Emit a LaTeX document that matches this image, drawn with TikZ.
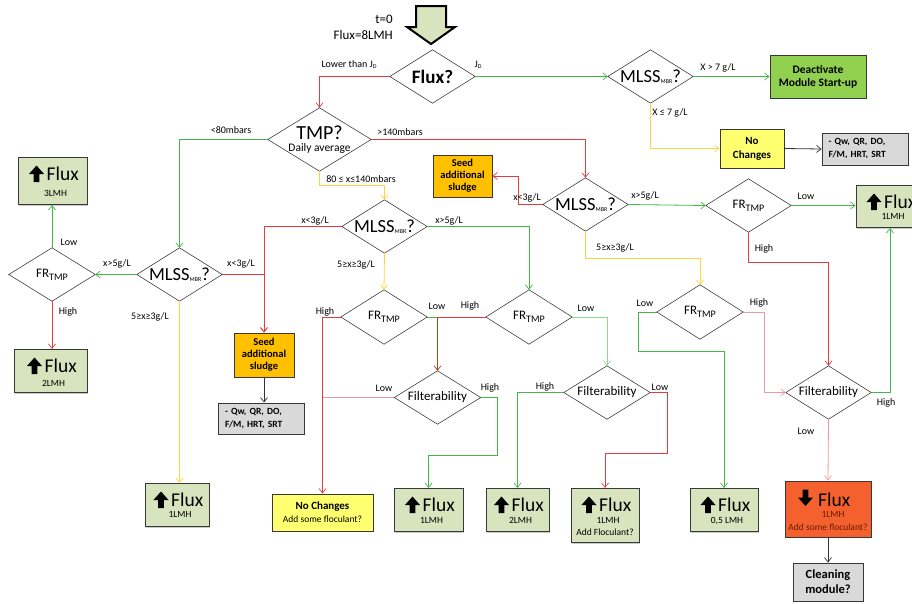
\documentclass[tikz,border=0pt]{standalone}
\usepackage{fontspec}
\setmainfont{Carlito}
\usetikzlibrary{arrows.meta,calc,shadows}
\definecolor{cgreen}{HTML}{44B649}
\definecolor{cgreenl}{HTML}{8FD68F}
\definecolor{cred}{HTML}{E03E3E}
\definecolor{credl}{HTML}{EE9A9A}
\definecolor{cyel}{HTML}{FFD440}
\definecolor{cbrown}{HTML}{A8441C}
\definecolor{fgreen}{HTML}{D7E4BD}
\definecolor{forange}{HTML}{FFC000}
\definecolor{fyel}{HTML}{FFFF70}
\definecolor{fgray}{HTML}{D9D9D9}
\definecolor{fdeact}{HTML}{92D050}
\definecolor{fdown}{HTML}{F4612F}
\definecolor{dtext}{HTML}{6B1A00}
\newcommand{\fsz}[1]{\fontsize{#1}{#1}\selectfont}
\newcommand{\mlss}{MLSS\raisebox{-1.5pt}{\fsz{6}MBR}?}
\newcommand{\frtmp}{{\fsz{13}FR}\raisebox{-3pt}{\fsz{10}TMP}}
\tikzset{
  lbl/.style={font=\fsz{10}, inner sep=0pt},
  dia/.style={rectangle, inner sep=0pt, minimum width=85pt, minimum height=53pt},
  diaout/.style={draw=black!75, line width=0.6pt},
  bx/.style={draw=black!78, line width=0.9pt, inner sep=0pt, align=center,
    drop shadow={shadow xshift=1.2pt, shadow yshift=-1.2pt, fill=black!35, opacity=0.6}},
  fluxt/.style={font=\fsz{19.5}, inner sep=0pt},
  subt/.style={font=\fsz{9.5}, inner sep=0pt},
  con/.style={line width=0.8pt},
  arr/.style={con, -{Straight Barb[length=4.5pt,width=7pt,line width=0.7pt]}},
  uparr/.pic={\fill[black] (-7.5,0)--(0,-8.5)--(7.5,0)--(2.8,0)--(2.8,8)--(-2.8,8)--(-2.8,0)--cycle;},
  downarr/.pic={\fill[black] (-7.5,0)--(0,8.5)--(7.5,0)--(2.8,0)--(2.8,-8)--(-2.8,-8)--(-2.8,0)--cycle;}
}
\newcommand{\fluxnode}[8]{%
  \node[bx, fill=#6, minimum width=#4pt, minimum height=#5pt, anchor=north] (#1) at (#2,#3) {};
  \pic at ($(#1.north)+(-16,17)$) {uparr};
  \node[fluxt, anchor=base west] at ($(#1.north)+(-6,23.5)$) {Flux};
  \node[subt, anchor=base] at ($(#1.north)+(3,#8)$) {#7};
}
\begin{document}
\begin{tikzpicture}[x=1pt,y=-1pt]
\useasboundingbox (0,0) rectangle (912,603);

% start arrow
\filldraw[fill=fgreen, draw=black, line width=2pt, line join=miter]
  (416,6)--(446,6)--(446,27)--(455,27)--(431,44)--(407,27)--(416,27)--cycle;
\node[lbl, font=\fsz{13}, anchor=east] (t0) at (393,19) {t=0};
\node[lbl, font=\fsz{13}, anchor=east] (f8) at (393,35) {Flux=8LMH};

% diamonds
\node[dia, font=\bfseries\fsz{19}] (flux) at (432.5,76.5) {\raisebox{-2pt}{Flux?}};
\node[dia, font=\fsz{18.5}] (m1) at (650.5,76.5) {\mlss};
\node[dia, minimum width=103pt, minimum height=63pt, align=center, font=\fontsize{11.5}{11.5}\selectfont] (tmp) at (319.5,139.5) {{\fsz{20}TMP?}\\Daily average};
\node[dia, font=\fsz{18.5}] (m2) at (384.5,226.5) {\mlss};
\node[dia, font=\fsz{18.5}] (mL) at (179.5,274.5) {\mlss};
\node[dia, font=\fsz{18.5}] (m3) at (585.5,204.5) {\mlss};
\node[dia, minimum width=86pt] (frL) at (52,274.5) {\frtmp};
\node[dia] (fr3) at (748.5,205.5) {\frtmp};
\node[dia, minimum width=86pt, minimum height=54pt] (fr4) at (700,312) {\frtmp};
\node[dia, minimum width=86pt, minimum height=54pt] (fr1) at (384,317) {\frtmp};
\node[dia, minimum width=86pt, minimum height=54pt] (fr2) at (529,317) {\frtmp};
\node[dia, minimum width=86pt, font=\fsz{13}] (filt1) at (437.5,397.5) {Filterability};
\node[dia, minimum width=86pt, font=\fsz{13}] (filt2) at (607,392.5) {Filterability};
\node[dia, font=\fsz{13}] (filt4) at (828.5,392.5) {Filterability};
\foreach \n in {flux,m1,tmp,m2,mL,m3,frL,fr3,fr4,fr1,fr2,filt1,filt2,filt4}
  \draw[diaout] (\n.west)--(\n.north)--(\n.east)--(\n.south)--cycle;

% boxes
\node[bx, fill=fdeact, minimum width=96pt, minimum height=43pt, font=\bfseries\fontsize{11.5}{13}\selectfont] (deact) at (818,76.5) {Deactivate\\Module Start-up};
\node[bx, fill=fyel, minimum width=64pt, minimum height=39pt, font=\bfseries\fontsize{11}{14}\selectfont] (nc1) at (752,148.5) {No\\Changes};
\node[bx, fill=fgray, minimum width=86pt, minimum height=32pt, text width=73pt, align=left, font=\bfseries\fontsize{9.5}{13}\selectfont] (g1) at (865,149) {- Qw, QR, DO,\\F/M, HRT, SRT};
\node[bx, fill=forange, minimum width=60pt, minimum height=44pt, font=\bfseries\fontsize{10.5}{12}\selectfont] (seedL) at (264,355) {Seed\\additional\\sludge};
\node[bx, fill=fgray, minimum width=86pt, minimum height=31pt, text width=72pt, align=left, font=\bfseries\fontsize{9.5}{13}\selectfont] (gL) at (261,418.5) {- Qw, QR, DO,\\F/M, HRT, SRT};
\node[bx, fill=forange, minimum width=59pt, minimum height=42pt, font=\bfseries\fontsize{10.5}{12}\selectfont] (seed2) at (462.5,176) {Seed\\additional\\sludge};
\node[bx, fill=fyel, minimum width=101pt, minimum height=37pt, font=\fontsize{9.5}{13}\selectfont] (nc2) at (322.5,512.5) {{\bfseries\fsz{11}No Changes}\\Add some floculant?};
\node[bx, fill=fgray, minimum width=70pt, minimum height=38pt, font=\bfseries\fontsize{12.5}{15}\selectfont] (clean) at (828,582) {Cleaning\\module?};

\fluxnode{fx3}{52.5}{157}{69}{47}{fgreen}{3LMH}{39}
\fluxnode{fx2L}{50.5}{349}{73}{43}{fgreen}{2LMH}{37}
\fluxnode{fx1tr}{890}{185}{68}{42}{fgreen}{1LMH}{34}
\fluxnode{fx1y}{177}{483}{64}{43}{fgreen}{1LMH}{34}
\fluxnode{fx1m}{428.5}{488}{69}{43}{fgreen}{1LMH}{35}
\fluxnode{fx2m}{517.5}{488}{63}{43}{fgreen}{2LMH}{35}
\fluxnode{fxaf}{605}{488}{68}{54}{fgreen}{1LMH}{35}
\node[subt, anchor=base] (afl) at (605,535) {Add Floculant?};
\fluxnode{fx05}{724}{488}{68}{43}{fgreen}{0,5 LMH}{35}

\node[bx, fill=fdown, minimum width=86pt, minimum height=56pt] (fxd) at (828,509) {};
\pic at (805.5,497.5) {downarr};
\node[fluxt, anchor=base west] (fxdt) at (818,506) {Flux};
\node[subt, text=dtext, anchor=base] (fxds) at (833,517) {1LMH};
\node[subt, text=dtext, anchor=base] (fxdf) at (828,530) {Add some floculant?};

% connectors
\draw[arr, cred] (flux.west) -| (tmp.north);
\draw[arr, cgreen] (flux.east) -- (m1.west);
\draw[arr, cgreen] (m1.east) -- (deact.west);
\draw[arr, cyel] (m1.south) |- (nc1.west);
\draw[arr, black!80] (nc1.east) -- (g1.west);
\draw[arr, cgreen] (tmp.west) -| (mL.north);
\draw[arr, cred] (tmp.east) -| (m3.north);
\draw[arr, cyel] (tmp.south) -- ++(0,14) -| (m2.north);
\draw[arr, cgreen] (mL.west) -- (frL.east);
\draw[arr, cyel] (mL.south) -- (mL.south |- fx1y.north);
\draw[arr, cred] (mL.east) -| (seedL.north);
\draw[arr, cred] (m2.west) -| (seedL.north);
\draw[arr, black!80] (seedL.south) -- (seedL.south |- gL.north);
\draw[arr, cgreen] (frL.north) -- (frL.north |- fx3.south);
\draw[arr, cred] (frL.south) -- (frL.south |- fx2L.north);
\draw[arr, cgreen] (m2.east) -| (fr2.north);
\draw[arr, cyel] (m2.south) -- (fr1.north);
\draw[arr, cred] (m3.west) -- ++(-24,0) |- (seed2.east);
\draw[arr, cgreen] (m3.east) -- (fr3.west);
\draw[arr, cyel] (m3.south) -- ++(0,27) -| (fr4.north);
\draw[arr, cgreen] (fr3.east) -- (fr3.east -| fx1tr.west);
\draw[arr, cred] (fr3.south) -- ++(0,30) -| (filt4.north);
\draw[arr, cgreen] (fr4.west) -- ++(-18,0) -- ++(0,39) -| (fx05.north);
\draw[arr, credl] (fr4.east) -- ++(21,0) |- (filt4.west);
\draw[arr, cgreen] (filt4.east) -| (fx1tr.south);
\draw[arr, credl] (filt4.south) -- (fxd.north);
\draw[arr, black!80] (fxd.south) -- (clean.north);
\draw[arr, cred] (fr1.west) -| (nc2.north);
\coordinate (j1) at (fr1.east -| filt1.north);
\draw[con, cgreen] (fr1.east) -- (j1);
\draw[con, cred] (fr2.west) -- (j1);
\draw[arr, cbrown] (j1) -- (filt1.north);
\draw[con, credl] (filt1.west) -- (filt1.west -| nc2.north);
\draw[arr, cgreen] (filt1.east) -- ++(17,0) -- ++(0,58) -| (fx1m.north);
\draw[arr, cgreenl] (fr2.east) -| (filt2.north);
\draw[arr, cgreen] (filt2.west) -| (fx2m.north);
\draw[arr, cred] (filt2.east) -- ++(17,0) -- ++(0,61) -| (fxaf.north);

% labels
\node[lbl] (l1) at (349,65) {Lower than J\raisebox{-1pt}{\fsz{6}D}};
\node[lbl] (l2) at (478,65) {J\raisebox{-1pt}{\fsz{6}D}};
\node[lbl] (l3) at (718,68) {X > 7 g/L};
\node[lbl] (l4) at (670,113) {X ≤ 7 g/L};
\node[lbl] (l5) at (231,130) {<80mbars};
\node[lbl] (l6) at (400,132) {>140mbars};
\node[lbl] (l7) at (361,179) {80 ≤ x≤140mbars};
\node[lbl] (l8) at (315,221) {x<3g/L};
\node[lbl] (l9) at (449,221) {x>5g/L};
\node[lbl] (l10) at (356,265) {5≥x≥3g/L};
\node[lbl] (l11) at (117,264) {x>5g/L};
\node[lbl] (l12) at (241,264) {x<3g/L};
\node[lbl] (l13) at (150,317) {5≥x≥3g/L};
\node[lbl] (l14) at (69,242) {Low};
\node[lbl] (l15) at (68,312) {High};
\node[lbl] (l16) at (527,198) {x<3g/L};
\node[lbl] (l17) at (645,196) {x>5g/L};
\node[lbl] (l18) at (615,248) {5≥x≥3g/L};
\node[lbl] (l19) at (806,196) {Low};
\node[lbl] (l20) at (764,249) {High};
\node[lbl] (l21) at (645,303) {Low};
\node[lbl] (l22) at (759,303) {High};
\node[lbl] (l23) at (437,306) {Low};
\node[lbl] (l24) at (470,306) {High};
\node[lbl] (l25) at (586,308) {Low};
\node[lbl] (l26) at (325,312) {High};
\node[lbl] (l27) at (384,388) {Low};
\node[lbl] (l28) at (490,388) {High};
\node[lbl] (l29) at (545,387) {High};
\node[lbl] (l30) at (660,387) {Low};
\node[lbl] (l31) at (886,403) {High};
\node[lbl] (l32) at (806,431) {Low};
\end{tikzpicture}
\end{document}
